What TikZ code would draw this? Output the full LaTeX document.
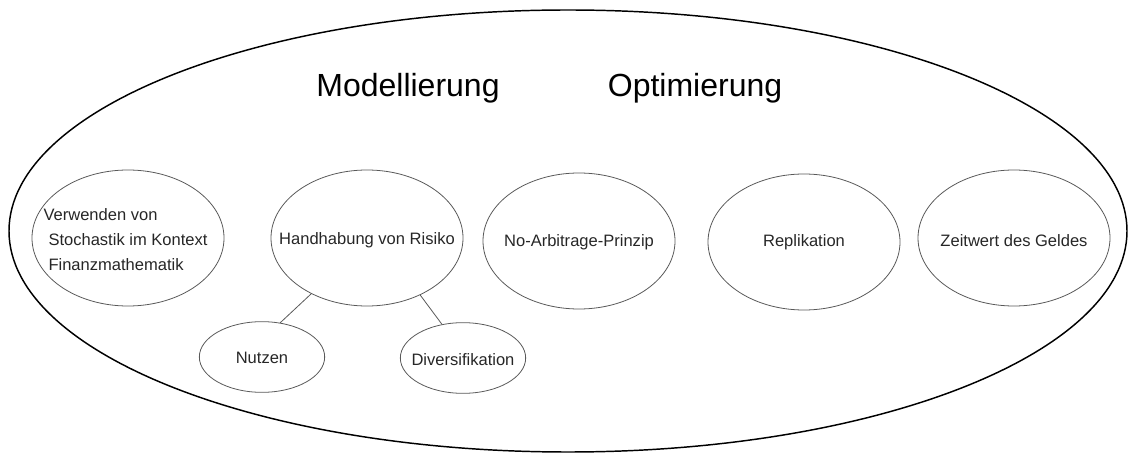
\documentclass[tikz,border=0pt]{standalone}
\usepackage{fontspec}
\setmainfont{Liberation Sans}
\usetikzlibrary{shapes.geometric}

\tikzset{
  kreis/.style={ellipse, draw=black!65, line width=0.6pt, inner sep=0pt,
    minimum width=144pt, minimum height=102pt},
  klein/.style={kreis, minimum width=94pt, minimum height=53pt},
  schrift/.style={font=\fontsize{12.4}{18.75}\selectfont, text=black!85},
  titel/.style={font=\fontsize{24}{28}\selectfont, anchor=base},
  verbindung/.style={draw=black!65, line width=0.6pt}
}

\begin{document}
\begin{tikzpicture}[x=0.75pt,y=-0.75pt]
  \useasboundingbox (0,0) rectangle (1128,466);

  % Rahmen
  \node[ellipse, draw, line width=1.1pt, inner sep=0pt,
    minimum width=838.5pt, minimum height=331.5pt] (rahmen) at (568,231) {};

  % Titel
  \node[titel] (modell) at (408,97) {Modellierung};
  \node[titel] (optim) at (695,97) {Optimierung};

  % Themen
  \node[kreis, label={[schrift, align=left, yshift=-1.5pt]center:\hspace*{-3.75pt}Verwenden von\\
    Stochastik im Kontext\\ Finanzmathematik}] (verwenden) at (128,238) {};
  \node[kreis, label={[schrift, yshift=-2pt]center:Handhabung von Risiko}] (risiko) at (367,238) {};
  \node[kreis, label={[schrift, yshift=-1pt]center:No-Arbitrage-Prinzip}] (arbitrage) at (579,241) {};
  \node[kreis, label={[schrift]center:Replikation}] (replikation) at (804,242) {};
  \node[kreis, label={[schrift, yshift=-2pt]center:Zeitwert des Geldes}] (zeitwert) at (1014,238) {};

  % Unterpunkte
  \node[klein, label={[schrift, yshift=-1pt]center:Nutzen}] (nutzen) at (262,357) {};
  \node[klein, label={[schrift, yshift=-1pt]center:Diversifikation}] (divers) at (463,358) {};

  \draw[verbindung] (risiko.225) -- (nutzen.62);
  \draw[verbindung] (risiko.313) -- (divers.122);

\end{tikzpicture}
\end{document}
